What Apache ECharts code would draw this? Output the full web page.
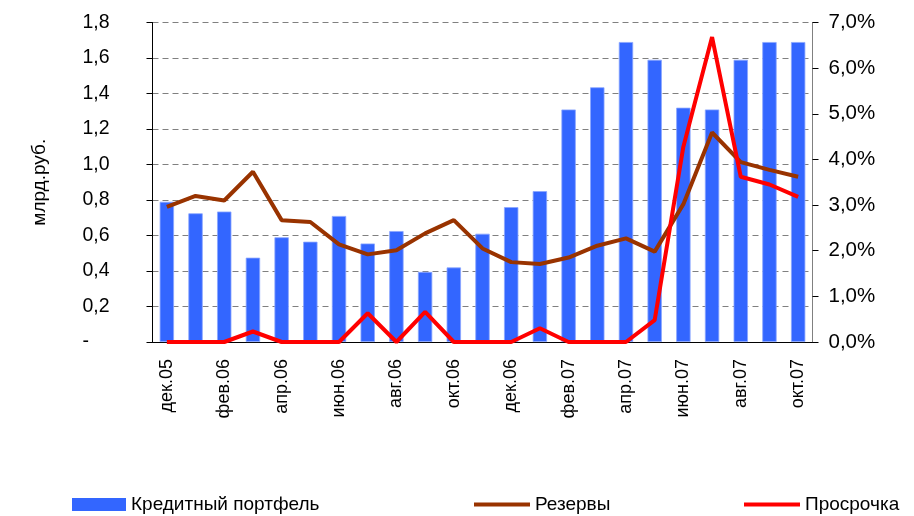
<!DOCTYPE html>
<html>
<head>
<meta charset="utf-8">
<script src="https://cdn.jsdelivr.net/npm/echarts@6/dist/echarts.min.js"></script>
<style>
  html, body { margin: 0; padding: 0; background: #fff; }
  #chart { width: 914px; height: 516px; }
</style>
</head>
<body>
<div id="chart"></div>
<script>
// месяцы
var months = ['дек.05', 'янв.06', 'фев.06', 'мар.06', 'апр.06', 'май.06', 'июн.06', 'июл.06',
  'авг.06', 'сен.06', 'окт.06', 'ноя.06', 'дек.06', 'янв.07', 'фев.07', 'мар.07', 'апр.07',
  'май.07', 'июн.07', 'июл.07', 'авг.07', 'сен.07', 'окт.07'];
// млрд.руб.
var portfolio = [0.79, 0.725, 0.735, 0.475, 0.59, 0.565, 0.71, 0.555, 0.625, 0.395, 0.42, 0.61,
  0.76, 0.85, 1.31, 1.435, 1.69, 1.59, 1.32, 1.31, 1.59, 1.69, 1.69];
// %, правая ось
var reserves = [2.96, 3.2, 3.1, 3.73, 2.67, 2.63, 2.14, 1.92, 2.01, 2.38, 2.67, 2.05,
  1.75, 1.71, 1.85, 2.11, 2.27, 1.98, 3.02, 4.59, 3.94, 3.77, 3.62];
var overdue = [0, 0, 0, 0.23, 0, 0, 0, 0.63, 0, 0.66, 0, 0,
  0, 0.3, 0, 0, 0, 0.48, 4.28, 6.68, 3.62, 3.45, 3.18];

var leftTicks = [0, 1.8, 0.2];
var rightTicks = [0, 7, 1];

var font = "'Liberation Sans', Arial, sans-serif";
var legendText = { fontSize: 19, color: '#000', fontFamily: font };

var chart = echarts.init(document.getElementById('chart'));
var option = {
  animation: false,
  textStyle: { fontFamily: font, color: '#000' },
  grid: { left: 152.5, right: 101.5, top: 22.5, bottom: 174 },
  legend: [
    { data: [{ name: 'Кредитный портфель', icon: 'rect', itemStyle: { borderWidth: 0 } }], left: 67, top: 490,
      itemWidth: 54, itemHeight: 13, textStyle: legendText },
    { data: [{ name: 'Резервы', icon: 'rect' }], left: 469, top: 490,
      itemWidth: 56, itemHeight: 4, textStyle: legendText },
    { data: [{ name: 'Просрочка', icon: 'rect' }], left: 739, top: 490,
      itemWidth: 56, itemHeight: 4, textStyle: legendText }
  ],
  xAxis: {
    type: 'category',
    data: months,
    boundaryGap: true,
    axisLine: { lineStyle: { color: '#000', width: 1 } },
    axisTick: { interval: 1, length: 6, lineStyle: { color: '#000' } },
    axisLabel: { interval: 1, rotate: 90, margin: 17, fontSize: 18, color: '#000', fontFamily: font },
    splitLine: { show: false }
  },
  yAxis: [
    {
      type: 'value',
      min: leftTicks[0], max: leftTicks[1], interval: leftTicks[2],
      name: 'млрд.руб.',
      nameLocation: 'middle',
      nameGap: 103,
      nameTextStyle: { fontSize: 19, color: '#000', fontFamily: font },
      axisLine: { show: true, lineStyle: { color: '#000' } },
      axisTick: { show: true, length: 6, lineStyle: { color: '#000' } },
      axisLabel: {
        align: 'left', margin: 70, fontSize: 19.5, color: '#000', fontFamily: font,
        formatter: function (v) { return v === 0 ? '-' : v.toFixed(1).replace('.', ','); }
      },
      splitLine: { show: true, lineStyle: { color: '#808080', type: [6, 4], width: 1 } }
    },
    {
      type: 'value',
      min: rightTicks[0], max: rightTicks[1], interval: rightTicks[2],
      position: 'right',
      axisLine: { show: true, lineStyle: { color: '#808080' } },
      axisTick: { show: true, length: 6, lineStyle: { color: '#000' } },
      axisLabel: {
        margin: 16, fontSize: 20.5, color: '#000', fontFamily: font,
        formatter: function (v) { return v.toFixed(1).replace('.', ',') + '%'; }
      },
      splitLine: { show: false }
    }
  ],
  series: [
    {
      name: 'Кредитный портфель',
      type: 'bar',
      yAxisIndex: 0,
      barWidth: '50%',
      itemStyle: { color: '#3366FF', borderColor: '#8AA6FF', borderWidth: 0.8 },
      data: portfolio
    },
    {
      name: 'Резервы',
      type: 'line',
      yAxisIndex: 1,
      symbol: 'none',
      lineStyle: { color: '#993300', width: 4 },
      itemStyle: { color: '#993300' },
      data: reserves
    },
    {
      name: 'Просрочка',
      type: 'line',
      yAxisIndex: 1,
      symbol: 'none',
      lineStyle: { color: '#FF0000', width: 4 },
      itemStyle: { color: '#FF0000' },
      data: overdue
    }
  ]
};
chart.setOption(option, true);
</script>
</body>
</html>
